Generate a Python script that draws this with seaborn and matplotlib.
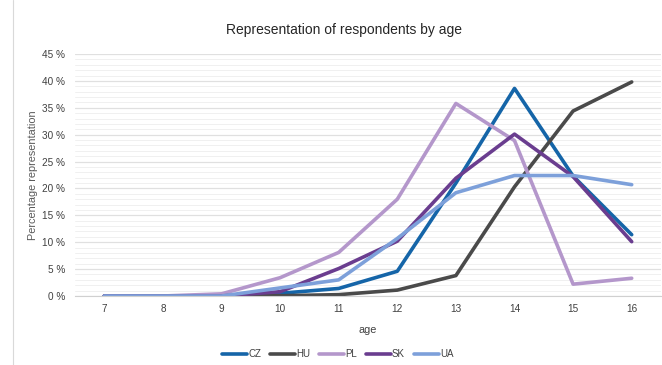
import matplotlib
matplotlib.use("Agg")
import matplotlib.pyplot as plt
import seaborn as sns
import pandas as pd
from matplotlib.ticker import MultipleLocator, FuncFormatter
from matplotlib.lines import Line2D

ages = [7, 8, 9, 10, 11, 12, 13, 14, 15, 16]
cz = [0, 0, 0, 0.5, 1.4, 4.6, 21.0, 38.6, 22.3, 11.4]
hu = [0, 0, 0, 0.05, 0.25, 1.1, 3.8, 20.3, 34.4, 39.8]
pl = [0, 0, 0.4, 3.4, 8.1, 18.0, 35.8, 28.9, 2.2, 3.3]
sk = [0, 0, 0, 0.8, 5.1, 10.2, 21.9, 30.1, 22.2, 10.1]
ua = [0, 0, 0, 1.5, 3.0, 10.7, 19.2, 22.4, 22.4, 20.7]
countries = ["CZ", "HU", "PL", "SK", "UA"]
colors = ["#1565A8", "#4A4A4A", "#B497CB", "#6A3D8F", "#7DA0DA"]

rows = []
for c, vals in zip(countries, [cz, hu, pl, sk, ua]):
    for a, v in zip(ages, vals):
        rows.append({"age": a, "value": v / 100, "country": c})
df = pd.DataFrame(rows)

sns.set_style("white")
plt.rcParams['font.family'] = ['Liberation Sans', 'DejaVu Sans']
fig = plt.figure(figsize=(6.62, 3.65), dpi=100)
ax = fig.add_axes([75/662, 1 - 296/365, (661-75)/662, (296-54)/365])

sns.lineplot(data=df, x="age", y="value", hue="country", palette=colors,
             hue_order=countries, linewidth=2.6, ax=ax, legend=False)

ax.set_xlim(6.5, 16.5)
ax.set_ylim(0, 0.45)
ax.set_xticks(ages)
ax.set_xticklabels([str(a) for a in ages])
ax.yaxis.set_major_locator(MultipleLocator(0.05))
ax.yaxis.set_minor_locator(MultipleLocator(0.01))
ax.yaxis.set_major_formatter(FuncFormatter(lambda v, p: f"{round(v*100)} %"))
ax.grid(axis="y", which="major", color="#E0E0E0", linewidth=0.9)
ax.grid(axis="y", which="minor", color="#F0F0F0", linewidth=0.7)
ax.set_axisbelow(True)
for s in ["top", "right", "left"]:
    ax.spines[s].set_visible(False)
ax.spines["bottom"].set_color("#D0D0D0")
ax.tick_params(axis="both", which="both", length=0, labelsize=7.2, colors="#404040")
ax.tick_params(axis="x", pad=6)
ax.tick_params(axis="y", pad=7)
ax.set_xlabel("age", fontsize=7.8, color="#404040", labelpad=8)
ax.set_ylabel("Percentage representation", fontsize=7.8, color="#595959", labelpad=3)
fig.suptitle("Representation of respondents by age", x=0.52, y=1 - 30/365,
             fontsize=10, color="#262626", va="center")

handles = [Line2D([0], [0], color=c, lw=2.6) for c in colors]
fig.legend(handles, countries, loc="center", bbox_to_anchor=(0.51, 1 - 354/365),
           ncol=5, frameon=False, fontsize=7, handlelength=2.6,
           handletextpad=0.1, columnspacing=0.9, labelcolor="#404040")

fig.add_artist(Line2D([13/662, 13/662], [0, 1], color="#D9D9D9", lw=0.8))

fig.savefig("out.png", dpi=100)
